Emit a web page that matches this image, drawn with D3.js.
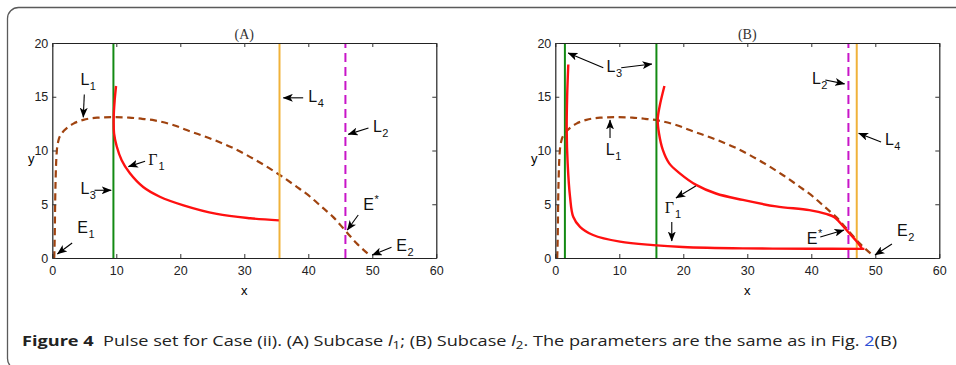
<!DOCTYPE html>
<html>
<head>
<meta charset="utf-8">
<script src="https://cdn.jsdelivr.net/npm/d3@7"></script>
<style>
  body { margin: 0; background: #fff; }
  svg { display: block; }
  .tick text { font-family: "Liberation Sans", Arial, sans-serif; font-size: 12.5px; fill: #222; }
</style>
</head>
<body>
<svg id="chart" width="956" height="365"></svg>
<script>
// axis ticks
const xTicks = [0, 10, 20, 30, 40, 50, 60];
const yTicks = [0, 5, 10, 15, 20];

// prey nullcline L1 (same parameters in both panels)
const nullcline = [[0.3,0],[0.38,2],[0.45,5.3],[0.55,8],[0.7,9.9],[0.95,10.9],[1.5,11.6],[2.3,12.1],[3.3,12.5],
  [4.85,12.85],[7,13.05],[9.5,13.1],[12,13.06],[14,12.95],[16,12.8],[19,12.35],[21,11.9],[25.2,11.0],[28,10.3],
  [30.3,9.6],[33.5,8.5],[35.6,7.7],[38,6.7],[40.3,5.7],[42,4.8],[43.9,3.8],[45.7,2.6],[47.5,1.4],[49.6,0.25]];

// panel A
const gammaA = [[9.96,16.0],[9.75,14.7],[9.6,13.2],[9.65,11.6],[10.06,10.4],[10.84,9.1],[12.1,7.9],[14.2,6.6],
  [16.8,5.7],[20.5,4.9],[25.7,4.1],[30.9,3.7],[35.4,3.5]];
const greenA = [9.55];
const orangeA = 35.5;
const magentaA = 45.8;

// panel B
const gammaB1 = [[2.03,18.0],[1.85,15],[1.78,11.9],[1.93,8.8],[2.3,5.7],[2.8,3.84],[3.86,2.9],[5.9,2.14],
  [10.1,1.52],[15.3,1.2],[19.9,1.03],[29.3,0.9],[39.7,0.86],[48.3,0.85]];
const gammaB2 = [[17.05,16.0],[16.3,14.1],[16.0,12.85],[16.2,11.6],[16.8,10.05],[17.8,8.8],[19.4,7.9],[22.0,6.8],
  [25.1,6.0],[29.3,5.4],[34.5,4.8],[39.7,4.45],[42.3,4.1],[43.6,3.8],[45.5,2.6],[47.0,1.6],[47.9,0.9]];
const greenB = [1.5, 15.8];
const orangeB = 47.1;
const magentaB = 45.8;

// labels: [main, sub, x, y]   arrows: [x1, y1, x2, y2]  (data units)
const labelsA = [["L","1",4.4,16.56],["E","1",3.9,2.8],["L","3",4.4,6.5],["Γ","1",15.0,9.2],
  ["L","4",40,15.0],["L","2",50.1,12.2],["E","*",48.6,5.0],["E","2",53.75,1.2]];
const arrowsA = [[5.0,15.2,4.84,13.1],[3.1,1.4,0.8,0.37],[6.6,6.3,9.2,6.3],[14.5,9.0,11.9,8.5],
  [39.2,14.9,36.1,14.9],[49.4,12.1,46.25,11.5],[47.8,4.0,46.1,2.6],[53,1.0,50,0.28]];
const labelsB = [["L","3",8.0,17.8],["L","2",40.1,16.7],["L","1",7.9,10.05],["L","4",51.5,11.0],
  ["Γ","1",17.1,4.7],["E","*",39.3,1.86],["E","2",53.4,2.6]];
const arrowsB = [[7.5,17.7,2.0,19.07],[10.3,17.7,15.1,18.05],[42.2,16.56,45.2,16.2],[8.55,11.16,8.55,12.84],
  [50.9,10.8,47.4,11.6],[21.95,6.7,18.85,5.58],[18.2,3.35,18.2,1.58],[41.4,1.95,45.1,2.6],[52.6,1.3,49.95,0.28]];

const colors = { brown: "#a0430f", green: "#138a13", orange: "#f0b23a", magenta: "#c815c8", red: "#ff1010" };

const svg = d3.select("#chart");

// frame
svg.append("rect")
  .attr("x", 7.5).attr("y", 7.5).attr("width", 1000).attr("height", 362)
  .attr("rx", 11)
  .attr("fill", "none").attr("stroke", "#5a5a5a").attr("stroke-width", 1.3);

svg.append("defs").append("marker")
  .attr("id", "arrow")
  .attr("markerUnits", "userSpaceOnUse")
  .attr("viewBox", "0 0 10 8")
  .attr("refX", 9.5).attr("refY", 4)
  .attr("markerWidth", 10).attr("markerHeight", 8)
  .attr("orient", "auto")
  .append("path")
  .attr("d", "M0,0 L10,4 L0,8 L2.5,4 Z")
  .attr("fill", "#000");

function drawPanel(left, title, cfg) {
  const x = d3.scaleLinear().domain([0, 60]).range([left, left + 384]);
  const y = d3.scaleLinear().domain([0, 20]).range([258, 43]);
  const g = svg.append("g");
  const nline = d3.line().x(d => x(d[0])).y(d => y(d[1])).curve(d3.curveMonotoneX);
  const line = d3.line().x(d => x(d[0])).y(d => y(d[1])).curve(d3.curveCatmullRom.alpha(0.5));

  g.append("path").attr("d", nline(nullcline))
    .attr("fill", "none").attr("stroke", colors.brown).attr("stroke-width", 2.2)
    .attr("stroke-dasharray", "7,4.5");

  g.selectAll(".green").data(cfg.green).enter().append("line")
    .attr("x1", d => x(d)).attr("x2", d => x(d)).attr("y1", y(0)).attr("y2", y(20))
    .attr("stroke", colors.green).attr("stroke-width", 2);
  g.append("line")
    .attr("x1", x(cfg.orange)).attr("x2", x(cfg.orange)).attr("y1", y(0)).attr("y2", y(20))
    .attr("stroke", colors.orange).attr("stroke-width", 2);
  g.append("line")
    .attr("x1", x(cfg.magenta)).attr("x2", x(cfg.magenta)).attr("y1", y(0)).attr("y2", y(20))
    .attr("stroke", colors.magenta).attr("stroke-width", 2)
    .attr("stroke-dasharray", "9,5");

  cfg.gammas.forEach(gm => {
    g.append("path").attr("d", line(gm))
      .attr("fill", "none").attr("stroke", colors.red).attr("stroke-width", 2.4);
  });

  // axes box with inward ticks
  const ax = [
    [d3.axisBottom(x).tickValues(xTicks), y(0), true],
    [d3.axisTop(x).tickValues(xTicks), y(20), false]
  ];
  ax.forEach(([a, ty, lab]) => {
    const s = g.append("g").attr("transform", `translate(0,${ty})`)
      .call(a.tickSizeInner(-4).tickSizeOuter(0).tickPadding(8));
    if (!lab) s.selectAll("text").remove();
  });
  const ay = [
    [d3.axisLeft(y).tickValues(yTicks), x(0), true],
    [d3.axisRight(y).tickValues(yTicks), x(60), false]
  ];
  ay.forEach(([a, tx, lab]) => {
    const s = g.append("g").attr("transform", `translate(${tx},0)`)
      .call(a.tickSizeInner(-4).tickSizeOuter(0).tickPadding(4));
    if (!lab) s.selectAll("text").remove();
  });
  g.selectAll(".domain").attr("stroke", "#222").attr("stroke-width", 1.2);
  g.selectAll(".tick line").attr("stroke", "#333");

  g.append("text").attr("x", x(30)).attr("y", 295)
    .attr("text-anchor", "middle")
    .style("font-family", "Liberation Sans, Arial, sans-serif").style("font-size", "13px")
    .text("x");
  g.append("text").attr("x", left - 21).attr("y", 163)
    .attr("text-anchor", "middle")
    .style("font-family", "Liberation Sans, Arial, sans-serif").style("font-size", "13px")
    .text("y");
  g.append("text").attr("x", x(30)).attr("y", 39)
    .attr("text-anchor", "middle")
    .style("font-family", "Liberation Serif, Times New Roman, serif").style("font-size", "14px")
    .attr("fill", "#333")
    .text(title);

  // arrows
  g.selectAll(".arr").data(cfg.arrows).enter().append("line")
    .attr("x1", d => x(d[0])).attr("y1", d => y(d[1]))
    .attr("x2", d => x(d[2])).attr("y2", d => y(d[3]))
    .attr("stroke", "#000").attr("stroke-width", 1.1)
    .attr("marker-end", "url(#arrow)");

  // labels
  const t = g.selectAll(".lab").data(cfg.labels).enter().append("text")
    .attr("x", d => x(d[2])).attr("y", d => y(d[3]) + 5.5)
    .style("font-family", d => d[0] === "Γ" ? "Liberation Serif, serif" : "Liberation Sans, Arial, sans-serif")
    .style("font-size", "16px")
    .attr("fill", "#111");
  t.append("tspan").text(d => d[0]);
  t.append("tspan")
    .attr("dy", d => d[1] === "*" ? -7 : 5)
    .attr("dx", d => d[0] === "Γ" ? 1 : 0.5)
    .style("font-family", "Liberation Sans, Arial, sans-serif")
    .style("font-size", "11px")
    .text(d => d[1]);
}

drawPanel(52.3, "(A)", { green: greenA, orange: orangeA, magenta: magentaA, gammas: [gammaA], labels: labelsA, arrows: arrowsA });
drawPanel(555.3, "(B)", { green: greenB, orange: orangeB, magenta: magentaB, gammas: [gammaB1, gammaB2], labels: labelsB, arrows: arrowsB });

// caption
const cap = svg.append("text")
  .attr("x", 22).attr("y", 346)
  .attr("textLength", 875).attr("lengthAdjust", "spacingAndGlyphs")
  .style("font-family", "Open Sans, Noto Sans, sans-serif").style("font-size", "15px")
  .attr("fill", "#222");
cap.append("tspan").style("font-weight", "bold").text("Figure 4");
cap.append("tspan").text("\u00a0 Pulse set for Case (ii). (A) Subcase ");
cap.append("tspan").style("font-style", "italic").text("l");
cap.append("tspan").attr("dy", 3).style("font-size", "11px").text("1");
cap.append("tspan").attr("dy", -3).text("; (B) Subcase ");
cap.append("tspan").style("font-style", "italic").text("l");
cap.append("tspan").attr("dy", 3).style("font-size", "11px").text("2");
cap.append("tspan").attr("dy", -3).text(". The parameters are the same as in Fig. ");
cap.append("tspan").attr("fill", "#2a4fd6").text("2");
cap.append("tspan").text("(B)");
</script>
</body>
</html>
